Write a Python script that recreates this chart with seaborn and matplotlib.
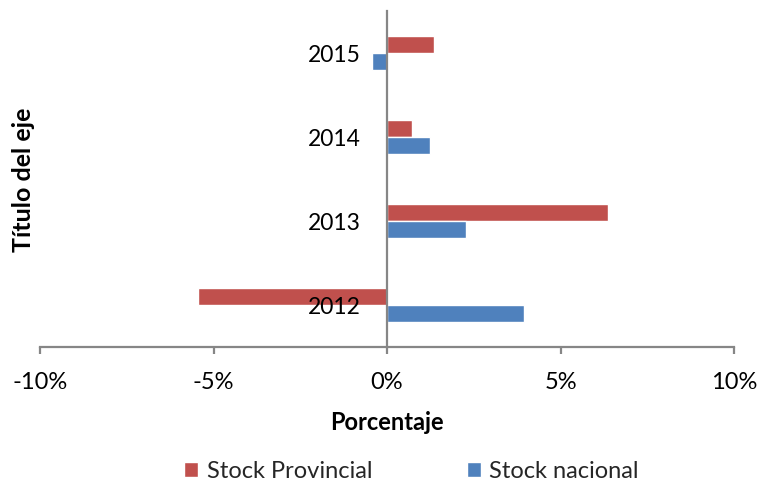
import matplotlib
matplotlib.use("Agg")
import matplotlib.pyplot as plt
import seaborn as sns
import pandas as pd
from matplotlib.ticker import FuncFormatter, FixedLocator

years = ["2015", "2014", "2013", "2012"]
series = ["Stock Provincial", "Stock nacional"]
provincial = [1.35, 0.72, 6.37, -5.45]
nacional = [-0.43, 1.24, 2.28, 3.95]
xticks = [-10, -5, 0, 5, 10]
colors = ["#C0504D", "#4F81BD"]

df = pd.DataFrame({
    "anio": years * 2,
    "serie": [series[0]] * len(years) + [series[1]] * len(years),
    "valor": provincial + nacional,
})

sns.set_theme(style="white")
plt.rcParams["font.family"] = ["Lato", "DejaVu Sans"]

fig = plt.figure(figsize=(7.6, 4.82), dpi=100)
ax = fig.add_axes([40 / 760, 1 - 347 / 482, 694 / 760, 336 / 482])

sns.barplot(data=df, x="valor", y="anio", hue="serie", order=years,
            hue_order=series, palette=colors, orient="h", width=0.4,
            saturation=1, ax=ax, legend=True)

gray = "#868686"
ax.set_axisbelow(False)
ax.set_xlim(-10, 10)
ax.set_ylim(3.5, -0.5)
ax.xaxis.set_major_locator(FixedLocator(xticks))
ax.xaxis.set_major_formatter(FuncFormatter(lambda v, p: f"{v:.0f}%"))
for s in ["top", "right"]:
    ax.spines[s].set_visible(False)
ax.spines["left"].set_position(("data", 0))
for s in ["left", "bottom"]:
    ax.spines[s].set_color(gray)
    ax.spines[s].set_linewidth(1.6)
ax.tick_params(axis="x", which="major", bottom=True, length=5, width=1.6,
               color=gray, direction="out", labelsize=17, pad=13, labelcolor="#000000")
ax.tick_params(axis="y", left=False, labelsize=16.5, pad=13, labelcolor="#000000")

ax.set_xlabel("Porcentaje", fontsize=17, fontweight="bold", color="#000000")
ax.set_ylabel("Título del eje", fontsize=18, fontweight="bold", color="#000000")
ax.xaxis.set_label_coords(0.5, -0.19)
ax.yaxis.set_label_coords(-0.007, 0.497)

ax.legend(loc="center", bbox_to_anchor=(0.535, -0.37), ncol=2, frameon=False,
          fontsize=17, handlelength=0.6, handleheight=0.6, handletextpad=0.35,
          columnspacing=4.0, borderpad=0.2)

fig.savefig("out.png", dpi=100)
